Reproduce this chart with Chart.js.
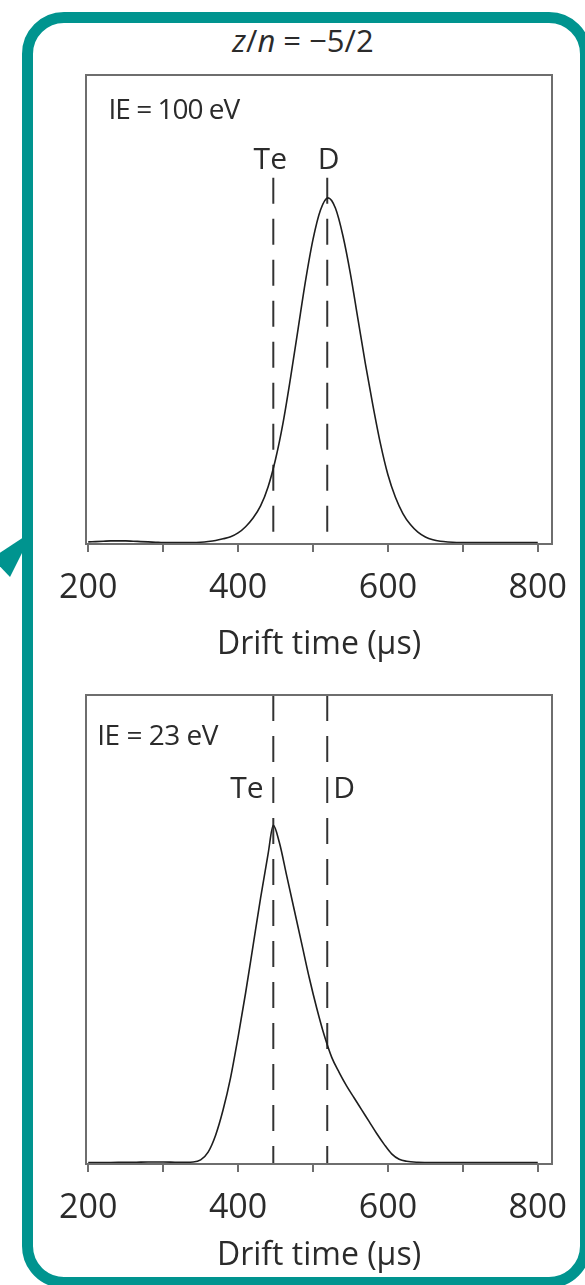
<!DOCTYPE html>
<html>
<head>
<meta charset="utf-8">
<script src="https://cdn.jsdelivr.net/npm/chart.js@4.4.1/dist/chart.umd.min.js"></script>
<style>
  html, body { margin: 0; padding: 0; background: #fff; }
  body { width: 585px; height: 1285px; position: relative; overflow: hidden;
         font-family: "Open Sans", "Liberation Sans", Arial, sans-serif; color: #2b2b2b; }
  #panel { position: absolute; left: 22px; top: 12px; width: 569px; height: 1276px;
           box-sizing: border-box; border: 11px solid #00948f; border-radius: 42px; }
  #pointer { position: absolute; left: 0; top: 0; }
  #heading { position: absolute; left: 0; top: 20px; width: 606px; text-align: center;
             font-size: 31px; line-height: 40px; color: #2b2b2b; }
  #heading i { font-style: italic; }
  canvas { position: absolute; left: 0; }
  #chartHigh { top: 0; }
  #chartLow { top: 620px; }
</style>
</head>
<body>
<svg id="pointer" width="60" height="620">
  <polygon points="33,531 -8,558 10,577" fill="#00948f"/>
</svg>
<div id="panel"></div>
<div id="heading"><i>z</i>/<i>n</i> = −5/2</div>
<canvas id="chartHigh" width="585" height="668"></canvas>
<canvas id="chartLow" width="585" height="659"></canvas>
<script>
// Drift-time axis ticks (µs)
const tickTimes = [200, 300, 400, 500, 600, 700, 800];
const labelledTimes = [200, 400, 600, 800];

// Peak drift times of the two reference species (µs)
const markerNames = ['Te', 'D'];
const markerTimes = [447, 519];

// Arrival-time distribution, IE = 100 eV (normalised to the peak)
const time100 = [200, 210, 220, 230, 240, 250, 260, 270, 280, 290, 300, 310, 320, 330, 340,
  350, 360, 370, 380, 390, 400, 410, 420, 430, 440, 450, 460, 470, 480, 490, 500, 510, 520,
  530, 540, 550, 560, 570, 580, 590, 600, 610, 620, 630, 640, 650, 660, 670, 680, 700, 720,
  740, 760, 780, 800];
const signal100 = [0.006, 0.007, 0.008, 0.009, 0.009, 0.009, 0.008, 0.007, 0.006, 0.005, 0.004,
  0.004, 0.004, 0.004, 0.004, 0.005, 0.007, 0.010, 0.015, 0.021, 0.032, 0.050, 0.075, 0.110,
  0.165, 0.245, 0.350, 0.480, 0.620, 0.760, 0.880, 0.965, 1.000, 0.970, 0.890, 0.780, 0.650,
  0.520, 0.400, 0.290, 0.200, 0.135, 0.088, 0.056, 0.034, 0.020, 0.012, 0.008, 0.006, 0.004,
  0.004, 0.004, 0.004, 0.004, 0.004];

// Arrival-time distribution, IE = 23 eV (normalised to the peak)
const time23 = [200, 220, 240, 260, 280, 300, 320, 340, 350, 360, 370, 380, 390, 400, 410, 420,
  430, 440, 447, 455, 465, 475, 485, 495, 505, 515, 525, 535, 545, 555, 565, 575, 585, 595, 605,
  615, 625, 640, 660, 680, 700, 720, 740, 760, 780, 800];
const signal23 = [0.004, 0.004, 0.005, 0.005, 0.006, 0.006, 0.005, 0.006, 0.012, 0.035, 0.085,
  0.160, 0.255, 0.375, 0.505, 0.645, 0.785, 0.915, 1.000, 0.950, 0.850, 0.750, 0.650, 0.550,
  0.460, 0.380, 0.315, 0.270, 0.230, 0.195, 0.160, 0.125, 0.090, 0.058, 0.030, 0.014, 0.008,
  0.005, 0.004, 0.004, 0.004, 0.004, 0.004, 0.004, 0.004, 0.004];

const INK = '#2b2b2b';
const FRAME = '#6e6e6e';
const FONT = '"Open Sans", "Liberation Sans", Arial, sans-serif';

function pairs(xs, ys) { return xs.map((x, i) => ({ x: x, y: ys[i] })); }

// Frame around the plotting area
const framePlugin = {
  id: 'frameBox',
  afterDatasetsDraw(chart) {
    const a = chart.chartArea, ctx = chart.ctx;
    ctx.save();
    ctx.strokeStyle = FRAME;
    ctx.lineWidth = 2;
    ctx.strokeRect(a.left, a.top, a.right - a.left, a.bottom - a.top);
    ctx.restore();
  }
};

// Text notes placed in data coordinates
const notesPlugin = {
  id: 'notes',
  afterDraw(chart, args, opts) {
    const ctx = chart.ctx, xs = chart.scales.x, ys = chart.scales.y;
    ctx.save();
    ctx.fillStyle = INK;
    ctx.textBaseline = 'middle';
    (opts.items || []).forEach(n => {
      ctx.font = n.size + 'px ' + FONT;
      ctx.letterSpacing = (n.spacing || 0) + 'px';
      ctx.textAlign = n.align;
      ctx.fillText(n.text, xs.getPixelForValue(n.x), ys.getPixelForValue(n.y));
    });
    ctx.restore();
  }
};

function buildChart(id, times, values, yMax, markerTop, markerBottom, axisHeight, notes) {
  const datasets = [{
    data: pairs(times, values),
    borderColor: '#1e1e1e',
    borderWidth: 1.6,
    pointRadius: 0,
    fill: false,
    cubicInterpolationMode: 'monotone'
  }];
  markerTimes.forEach(t => {
    datasets.push({
      data: [{ x: t, y: markerTop }, { x: t, y: markerBottom }],
      borderColor: '#333333',
      borderWidth: 2,
      borderDash: [26, 15],
      pointRadius: 0,
      fill: false
    });
  });
  return new Chart(document.getElementById(id), {
    type: 'line',
    data: { datasets: datasets },
    options: {
      responsive: false,
      animation: false,
      events: [],
      layout: { padding: { left: 86, right: 33, top: 75, bottom: 0 } },
      plugins: { legend: { display: false }, tooltip: { enabled: false }, notes: { items: notes } },
      scales: {
        x: {
          type: 'linear',
          min: 197,
          max: 819,
          afterBuildTicks: s => { s.ticks = tickTimes.map(v => ({ value: v })); },
          afterFit: s => { s.height = axisHeight; },
          ticks: {
            autoSkip: false,
            maxRotation: 0,
            padding: 16,
            color: INK,
            font: { family: FONT, size: 34 },
            callback: v => labelledTimes.includes(v) ? String(v) : ''
          },
          grid: { drawOnChartArea: false, drawTicks: true, tickLength: 8, color: FRAME, lineWidth: 2 },
          border: { display: true, color: FRAME, width: 2 },
          title: {
            display: true,
            text: 'Drift time (µs)',
            color: INK,
            font: { family: FONT, size: 32 },
            padding: { top: 0, bottom: 4 }
          }
        },
        y: { display: false, min: 0, max: yMax }
      }
    },
    plugins: [framePlugin, notesPlugin]
  });
}

buildChart('chartHigh', time100, signal100, 1.355, 1.058, 0.035, 124, [
  { text: 'IE = 100 eV', x: 227, y: 1.251, align: 'left', size: 28, spacing: -1 },
  { text: markerNames[0], x: 443, y: 1.109, align: 'center', size: 30 },
  { text: markerNames[1], x: 521, y: 1.109, align: 'center', size: 30 }
]);

buildChart('chartLow', time23, signal23, 1.385, 1.385, 0, 115, [
  { text: 'IE = 23 eV', x: 212, y: 1.261, align: 'left', size: 28, spacing: -0.5 },
  { text: markerNames[0], x: 434, y: 1.107, align: 'right', size: 30 },
  { text: markerNames[1], x: 527, y: 1.107, align: 'left', size: 30 }
]);
</script>
</body>
</html>
